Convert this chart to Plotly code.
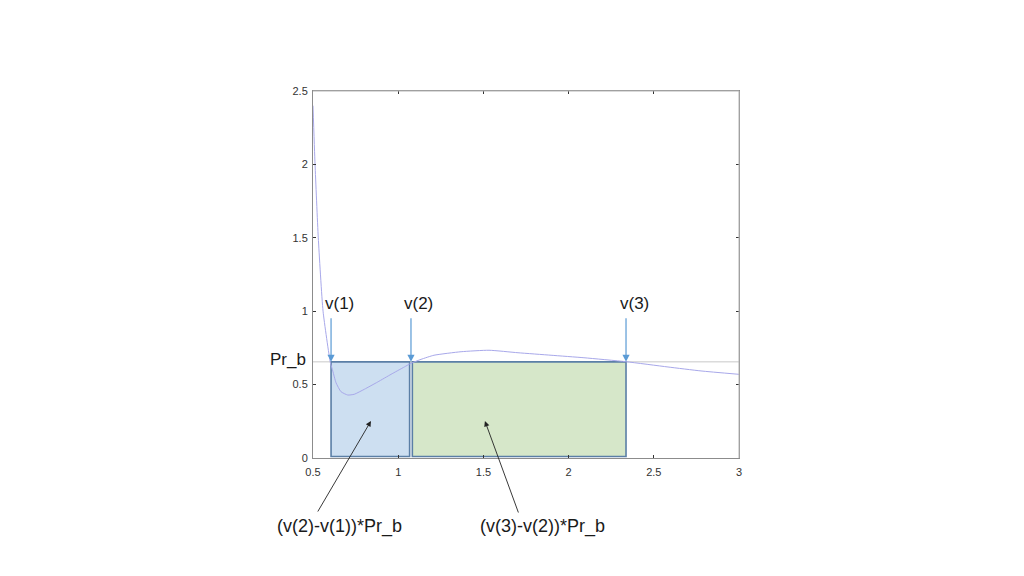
import plotly.graph_objects as go

# ---- data ----
curve_x = [0.5, 0.512, 0.531, 0.559, 0.602, 0.616, 0.635, 0.664, 0.704, 0.742, 0.801,
           0.88, 0.958, 1.036, 1.075, 1.134, 1.21, 1.369, 1.533, 1.703, 1.897, 2.09,
           2.337, 2.583, 2.777, 3.0]
curve_y = [2.40, 2.0, 1.5, 1.0, 0.649, 0.593, 0.513, 0.452, 0.429, 0.434, 0.468,
           0.518, 0.570, 0.620, 0.645, 0.672, 0.70, 0.724, 0.734, 0.717, 0.70, 0.683,
           0.656, 0.62, 0.593, 0.57]

pr_b = 0.655
v_vals = [0.606, 1.075, 2.337]
v_labels = ["v(1)", "v(2)", "v(3)"]
area_labels = ["(v(2)-v(1))*Pr_b", "(v(3)-v(2))*Pr_b"]
area_fills = ["#cddff1", "#d6e7c9"]

x_ticks = [0.5, 1, 1.5, 2, 2.5, 3]
x_ticktext = ["0.5", "1", "1.5", "2", "2.5", "3"]
y_ticks = [0, 0.5, 1, 1.5, 2, 2.5]
y_ticktext = ["0", "0.5", "1", "1.5", "2", "2.5"]

# ---- figure ----
fig = go.Figure()

shapes = []
gap = 0.008
rect_bounds = [(v_vals[0], v_vals[1] - gap), (v_vals[1] + gap, v_vals[2])]
for (x0, x1), fc in zip(rect_bounds, area_fills):
    shapes.append(dict(type="rect", xref="x", yref="y", x0=x0, x1=x1, y0=0.01, y1=pr_b,
                       fillcolor=fc, line=dict(color="#5b7fa6", width=1.6), layer="below"))
shapes.append(dict(type="line", xref="paper", yref="y", x0=0, x1=1, y0=pr_b, y1=pr_b,
                   line=dict(color="#c9c9c9", width=1), layer="below"))
shapes.append(dict(type="line", xref="paper", yref="paper", x0=0, x1=1, y0=1, y1=1,
                   line=dict(color="#b5b5b5", width=1)))
shapes.append(dict(type="line", xref="paper", yref="paper", x0=1, x1=1, y0=0, y1=1,
                   line=dict(color="#b5b5b5", width=1)))

fig.add_trace(go.Scatter(x=curve_x, y=curve_y, mode="lines",
                         line=dict(color="#a8a8ea", width=1, shape="spline", smoothing=0.5),
                         hoverinfo="skip", showlegend=False))

annotations = []
label_font = dict(family="Liberation Sans, Arial, sans-serif", size=17, color="#1a1a1a")
for v, lab in zip(v_vals, v_labels):
    annotations.append(dict(x=v, y=pr_b, xref="x", yref="y", ax=0, ay=-45,
                            axref="pixel", ayref="pixel", text="", showarrow=True,
                            arrowhead=2, arrowsize=1.2, arrowwidth=1.2, arrowcolor="#5b9bd5",
                            standoff=0))
    annotations.append(dict(x=v, y=pr_b, xref="x", yref="y", text=lab, showarrow=False,
                            xshift=8, yshift=58, font=label_font))

annotations.append(dict(x=0, y=pr_b, xref="paper", yref="y", text="Pr_b", showarrow=False,
                        xanchor="right", xshift=-5, yshift=2, font=dict(label_font, size=17)))

arrow_heads = [(0.840, 0.252, -54, 92), (1.509, 0.252, 34, 93)]
label_pos = [0.656, 1.844]
for (hx, hy, ax, ay), lx, txt in zip(arrow_heads, label_pos, area_labels):
    annotations.append(dict(x=hx, y=hy, xref="x", yref="y", ax=ax, ay=ay,
                            axref="pixel", ayref="pixel", text="", showarrow=True,
                            arrowhead=2, arrowsize=1.2, arrowwidth=0.9, arrowcolor="#222222",
                            standoff=0))
    annotations.append(dict(x=lx, y=-0.22, xref="x", yref="paper", text=txt, showarrow=False,
                            font=dict(label_font, size=18)))

axis_common = dict(showgrid=False, zeroline=False, showline=True, linecolor="#8c8c8c",
                   linewidth=1, mirror="ticks", ticks="inside", ticklen=3, tickwidth=1,
                   tickcolor="#333333",
                   tickfont=dict(family="Liberation Sans, Arial, sans-serif", size=11, color="#333333"))

fig.update_layout(
    width=1024, height=576,
    margin=dict(l=305, r=293, t=83, b=126),
    paper_bgcolor="white", plot_bgcolor="white",
    xaxis=dict(range=[0.5, 3], tickvals=x_ticks, ticktext=x_ticktext,
               ticklabelstandoff=4, **axis_common),
    yaxis=dict(range=[0, 2.5], tickvals=y_ticks, ticktext=y_ticktext,
               ticklabelstandoff=2, **axis_common),
    shapes=shapes, annotations=annotations, showlegend=False,
)

fig.write_html("out.html")
